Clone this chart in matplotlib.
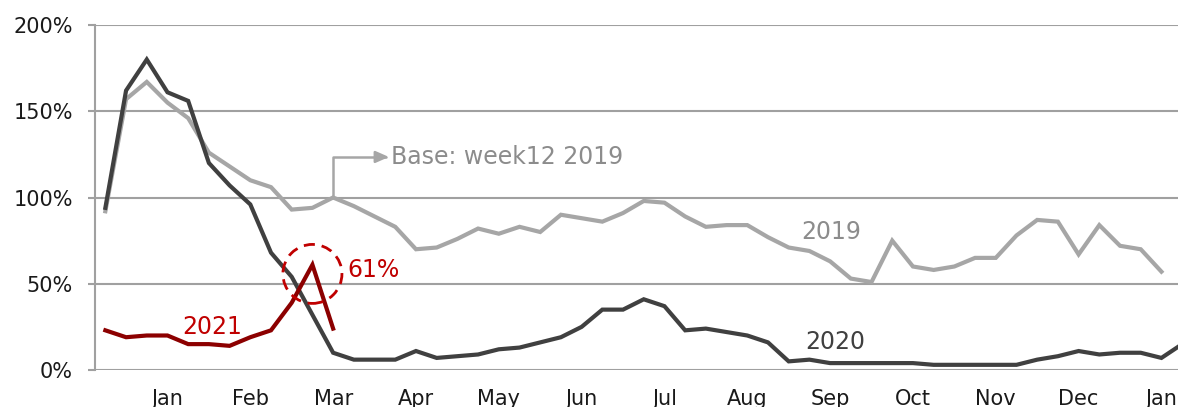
import matplotlib
matplotlib.use("Agg")
import matplotlib.pyplot as plt
from matplotlib.patches import Ellipse
from matplotlib.ticker import FuncFormatter

# ---- data (weekly index, % of base week12 2019) ----
y2019 = [92, 157, 167, 155, 146, 126, 118, 110, 106, 93, 94, 100, 95, 89, 83,
         70, 71, 76, 82, 79, 83, 80, 90, 88, 86, 91, 98, 97, 89, 83, 84, 84,
         77, 71, 69, 63, 53, 51, 75, 60, 58, 60, 65, 65, 78, 87, 86, 67, 84,
         72, 70, 57]
y2020 = [94, 162, 180, 161, 156, 120, 107, 96, 68, 54, 32, 10, 6, 6, 6,
         11, 7, 8, 9, 12, 13, 16, 19, 25, 35, 35, 41, 37, 23, 24, 22, 20,
         16, 5, 6, 4, 4, 4, 4, 4, 3, 3, 3, 3, 3, 6, 8, 11, 9, 10, 10, 7, 15]
y2021 = [23, 19, 20, 20, 15, 15, 14, 19, 23, 39, 61, 24]
month_labels = ["Jan", "Feb", "Mar", "Apr", "May", "Jun", "Jul", "Aug",
                "Sep", "Oct", "Nov", "Dec", "Jan"]
month_weeks = [3 + 4 * k for k in range(len(month_labels))]
y_ticks = [0, 50, 100, 150, 200]

C2019 = "#A6A6A6"
C2020 = "#404040"
C2021 = "#8C0000"
CRED = "#C00000"
CGRID = "#A0A0A0"

plt.rcParams["font.family"] = ["DejaVu Sans"]

fig = plt.figure(figsize=(11.78, 4.07), dpi=100)
ax = fig.add_axes([95 / 1178, 1 - 370 / 407, 1 - 95 / 1178, (370 - 25) / 407])

ax.plot(range(len(y2019)), y2019, color=C2019, lw=3, solid_joinstyle="miter", zorder=3)
ax.plot(range(len(y2020)), y2020, color=C2020, lw=3, solid_joinstyle="miter", zorder=4)
ax.plot(range(len(y2021)), y2021, color=C2021, lw=3, solid_joinstyle="miter", zorder=5)

ax.set_xlim(-0.5, 51.8)
ax.set_ylim(0, 200)
ax.set_yticks(y_ticks)
ax.yaxis.set_major_formatter(FuncFormatter(lambda v, p: f"{v:.0f}%"))
ax.set_xticks(month_weeks)
ax.set_xticklabels(month_labels)

ax.grid(axis="y", color=CGRID, lw=1.5, zorder=0)
ax.set_axisbelow(True)
for s in ["top", "right", "bottom"]:
    ax.spines[s].set_visible(False)
ax.spines["left"].set_color(CGRID)
ax.spines["left"].set_linewidth(1.5)
ax.tick_params(axis="y", length=5, width=1.5, color=CGRID, pad=11,
               labelsize=15, labelcolor="#1a1a1a")
ax.tick_params(axis="x", length=0, pad=14, labelsize=15, labelcolor="#1a1a1a")

# annotations
ax.annotate("", xy=(13.7, 123.5), xytext=(11, 100),
            arrowprops=dict(arrowstyle="-|>,head_length=0.8,head_width=0.35",
                            connectionstyle="angle,angleA=90,angleB=0,rad=0",
                            color=C2019, lw=1.8, shrinkA=0, shrinkB=0),
            zorder=6)
ax.text(13.8, 123.5, "Base: week12 2019", color="#8C8C8C", fontsize=17,
        va="center", ha="left")
ax.text(33.6, 80, "2019", color="#8C8C8C", fontsize=17, va="center", ha="left")
ax.text(33.8, 16, "2020", color=C2020, fontsize=17, va="center", ha="left")
ax.text(3.7, 25, "2021", color=CRED, fontsize=17, va="center", ha="left")
ax.text(11.7, 58, "61%", color=CRED, fontsize=17, va="center", ha="left")

circ = Ellipse((10.0, 55.7), width=59 / 20.7, height=59 / 1.725, fill=False,
               edgecolor=CRED, lw=2, linestyle=(0, (4, 2.5)), zorder=7)
ax.add_patch(circ)

fig.savefig("out.png", dpi=100)
